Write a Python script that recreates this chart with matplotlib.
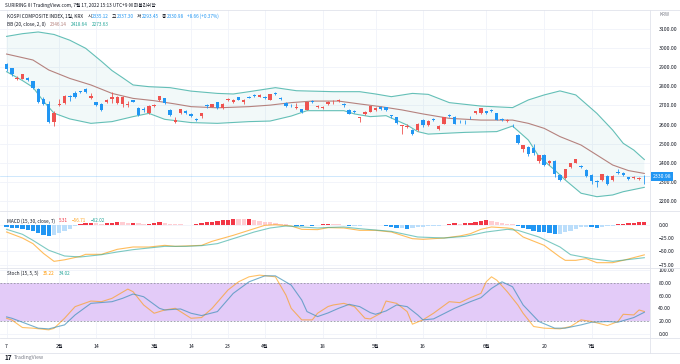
import numpy as np
import matplotlib.pyplot as plt
from matplotlib import transforms
from matplotlib.ticker import FuncFormatter

plt.rcParams['font.family'] = ['Noto Sans CJK KR', 'DejaVu Sans']

# KOSPI daily candles, 2022-01-17 .. 2022-07-15
opens = [2915, 2893, 2838, 2840, 2843, 2826, 2785, 2733, 2708, 2616,
         2702, 2712, 2752, 2765, 2773, 2786, 2741, 2716, 2709, 2717,
         2735, 2712, 2707, 2703, 2727, 2689, 2683, 2660, 2697, 2729,
         2737, 2678, 2616, 2659, 2671, 2656, 2631, 2646, 2700, 2694,
         2716, 2687, 2729, 2718, 2742, 2719, 2746, 2757, 2746, 2744,
         2729, 2767, 2740, 2713, 2703, 2688, 2681, 2676, 2722, 2693,
         2686, 2708, 2716, 2724, 2708, 2677, 2672, 2633, 2654, 2667,
         2674, 2692, 2690, 2648, 2638, 2592, 2590, 2574, 2570, 2625,
         2598, 2630, 2575, 2605, 2650, 2641, 2620, 2616, 2641, 2660,
         2661, 2670, 2677, 2660, 2632, 2620, 2600, 2548, 2472, 2486,
         2481, 2410, 2443, 2401, 2410, 2340, 2322, 2378, 2403, 2385,
         2365, 2338, 2308, 2310, 2332, 2310, 2355, 2350, 2325, 2320,
         2318, 2335.12]
highs = [2922, 2897, 2853, 2866, 2846, 2830, 2790, 2746, 2722, 2672,
         2735, 2754, 2757, 2777, 2777, 2791, 2763, 2719, 2713, 2733,
         2770, 2750, 2749, 2722, 2731, 2693, 2690, 2702, 2709, 2752,
         2741, 2681, 2642, 2683, 2675, 2661, 2637, 2661, 2706, 2709,
         2718, 2712, 2740, 2733, 2746, 2735, 2750, 2762, 2760, 2749,
         2760, 2770, 2745, 2716, 2708, 2711, 2684, 2719, 2728, 2702,
         2697, 2722, 2727, 2735, 2712, 2680, 2677, 2641, 2670, 2698,
         2694, 2697, 2694, 2652, 2641, 2600, 2603, 2578, 2607, 2628,
         2624, 2634, 2596, 2642, 2655, 2644, 2625, 2622, 2645, 2672,
         2686, 2673, 2680, 2662, 2635, 2631, 2604, 2551, 2495, 2490,
         2499, 2443, 2447, 2418, 2415, 2344, 2368, 2403, 2423, 2390,
         2368, 2341, 2312, 2345, 2336, 2337, 2368, 2355, 2330, 2333,
         2330, 2337.30]
lows = [2880, 2855, 2832, 2838, 2828, 2788, 2715, 2705, 2610, 2591,
        2699, 2706, 2722, 2740, 2764, 2766, 2734, 2698, 2670, 2714,
        2711, 2706, 2694, 2693, 2716, 2643, 2668, 2654, 2690, 2726,
        2707, 2645, 2607, 2655, 2654, 2640, 2617, 2633, 2689, 2690,
        2682, 2684, 2725, 2712, 2728, 2707, 2737, 2744, 2743, 2733,
        2727, 2756, 2728, 2693, 2690, 2684, 2660, 2674, 2712, 2688,
        2680, 2705, 2710, 2720, 2694, 2654, 2660, 2616, 2650, 2664,
        2670, 2677, 2673, 2636, 2606, 2550, 2585, 2546, 2566, 2590,
        2595, 2620, 2570, 2602, 2640, 2603, 2610, 2605, 2632, 2657,
        2658, 2655, 2665, 2622, 2618, 2615, 2590, 2501, 2460, 2436,
        2442, 2403, 2385, 2390, 2330, 2306, 2318, 2375, 2398, 2372,
        2328, 2290, 2276, 2306, 2288, 2305, 2345, 2335, 2312, 2315,
        2312, 2293.45]
closes = [2890, 2864, 2843, 2863, 2834, 2792, 2720, 2709, 2614, 2663,
          2708, 2750, 2745, 2746, 2769, 2772, 2748, 2704, 2677, 2730,
          2745, 2744, 2744, 2707, 2720, 2649, 2677, 2699, 2704, 2747,
          2713, 2651, 2622, 2680, 2661, 2646, 2622, 2659, 2695, 2707,
          2686, 2710, 2736, 2729, 2730, 2730, 2741, 2747, 2757, 2740,
          2758, 2759, 2735, 2696, 2700, 2693, 2667, 2716, 2717, 2696,
          2693, 2719, 2719, 2728, 2705, 2657, 2668, 2639, 2667, 2695,
          2687, 2680, 2678, 2644, 2611, 2597, 2592, 2550, 2604, 2597,
          2620, 2626, 2592, 2639, 2647, 2606, 2617, 2612, 2638, 2670,
          2686, 2659, 2671, 2626, 2626, 2625, 2596, 2505, 2493, 2447,
          2451, 2441, 2391, 2409, 2343, 2314, 2367, 2402, 2422, 2378,
          2333, 2305, 2300, 2342, 2292, 2334, 2351, 2340, 2318, 2329,
          2322.32, 2330.98]

# Bollinger bands (20, 2) read at sample bars
bb_up_idx = [0, 3, 6, 9, 12, 15, 18, 20, 22, 24, 27, 31, 35, 40, 43, 46, 51, 55,
             62, 67, 70, 73, 77, 80, 84, 90, 96, 99, 102, 105, 108, 112, 115,
             117, 119, 121]
bb_up = [3060, 3074, 3083, 3070, 3040, 2998, 2930, 2882, 2845, 2807, 2798,
         2793, 2775, 2763, 2760, 2772, 2793, 2777, 2772, 2772, 2760, 2746,
         2763, 2758, 2715, 2697, 2689, 2729, 2755, 2776, 2755, 2659, 2572,
         2503, 2468, 2418.64]
bb_mid_idx = [0, 5, 8, 12, 16, 20, 24, 28, 32, 35, 40, 46, 50, 54, 58, 63, 67,
              71, 75, 79, 84, 90, 96, 99, 102, 105, 109, 112, 115, 118, 121]
bb_mid = [2968, 2937, 2885, 2841, 2807, 2763, 2737, 2725, 2708, 2694, 2688,
          2694, 2702, 2715, 2723, 2723, 2708, 2694, 2677, 2656, 2633, 2624,
          2624, 2607, 2581, 2538, 2494, 2442, 2390, 2361, 2346.14]
bb_lo_idx = [0, 3, 5, 7, 9, 12, 16, 20, 24, 27, 30, 35, 40, 46, 50, 54, 57, 64,
             66, 69, 72, 76, 78, 80, 87, 93, 96, 99, 101, 104, 106, 109, 112,
             115, 117, 121]
bb_lo = [2876, 2830, 2795, 2722, 2660, 2630, 2607, 2616, 2642, 2659, 2628,
         2611, 2607, 2616, 2619, 2645, 2673, 2673, 2656, 2642, 2647, 2598,
         2564, 2551, 2560, 2564, 2593, 2520, 2434, 2364, 2312, 2243, 2225,
         2234, 2251, 2273.63]

# MACD (15, 30, 7)
macd_idx = [0, 3, 5, 7, 9, 11, 14, 15, 18, 21, 24, 27, 30, 32, 34, 37, 39, 43,
            47, 49, 51, 54, 56, 59, 61, 64, 67, 70, 73, 77, 79, 83, 86, 88, 90,
            92, 95, 96, 98, 102, 105, 106, 108, 110, 112, 115, 117, 121]
macd_line = [-13.7, -25, -35.6, -54, -68.9, -66, -59.5, -55.7, -55.7, -46.3,
             -41.9, -42, -38.8, -40.7, -40, -38.8, -31.2, -20, -7.4, -1.2, 0,
             -2.4, -8.7, -9.3, -5.5, -6.2, -10.6, -10.6, -13.7, -26.3, -27.5,
             -25, -21.2, -16.9, -8.7, -4.3, -6.2, -7.5, -23.1, -38.8, -60.8,
             -67, -67, -63.8, -71.4, -71.4, -67, -56.71]
sig_idx = [0, 3, 5, 8, 11, 14, 18, 21, 24, 27, 30, 34, 37, 40, 43, 47, 50, 53,
           56, 59, 61, 64, 67, 73, 78, 83, 87, 91, 95, 97, 101, 105, 107, 111,
           115, 121]
sig_line = [-8.7, -18, -29.4, -48, -58.8, -60.7, -56.4, -51.3, -46.9, -43.8,
            -40.7, -40.7, -39.4, -35.6, -26.2, -13.7, -6.2, -2.4, -4.3, -6.2,
            -5.2, -4.3, -7.5, -12.5, -23.1, -25, -21.9, -13.7, -8.7, -10.6,
            -23.1, -41.9, -56.3, -63.8, -68.9, -62.02]
macd_hist = [-5, -6, -7, -8, -10, -12, -15, -19, -21, -20,
             -16, -12, -8, -3, 1, 3, 4, 3, 1, 3,
             4, 5, 5, 3, 4, 3, 1, 2, 3, 5,
             4, 2, 1, 0.5, -0.5, -1, 0.5, 3, 5, 6,
             7, 8, 9, 10, 10, 10, 11, 9, 7, 6,
             5, 4, 2, 0.5, -1, -2, -2.5, -1.5, -2, -1.5,
             1, 2, 2, 1, -1.5, -3, -3, -2, -1, -0.5,
             -1, -1.5, -2, -5, -7, -7, -8, -7, -5, -4,
             -3, -2, -2, -1, 1, 3, 2, 3, 4, 5,
             7, 8, 7, 5, 3, 1.5, 0.5, -3, -7, -9,
             -11, -13, -14, -15, -17, -17, -13, -11, -8, -5,
             -4, -5, -6, -4, -3, -2, 1, 2, 3, 4,
             4.5, 5.31]

# Stochastic (15, 5, 5)
k_idx = [0, 1, 3, 5, 8, 9, 11, 13, 16, 18, 20, 23, 24, 26, 28, 30, 32, 35, 37,
         39, 42, 44, 46, 48, 51, 53, 54, 56, 58, 59, 61, 62, 64, 66, 68, 69,
         71, 72, 74, 76, 77, 79, 81, 84, 86, 88, 90, 91, 92, 93, 95, 97, 98,
         100, 102, 105, 107, 109, 111, 114, 116, 117, 119, 120, 121]
stoch_k = [24.7, 22, 10.3, 9.3, 6.7, 9, 24.7, 42.8, 51.5, 50.5, 55.7, 70.1,
           66, 45.4, 32.5, 37.6, 40.2, 24.7, 25.8, 40.2, 68.6, 81.4, 89.2,
           91.8, 89.2, 60.8, 40.2, 22.2, 22.2, 32.5, 43, 45.4, 47.9, 42.8,
           24.7, 23.7, 32.5, 51.5, 47.9, 35.1, 15.5, 22.2, 32.5, 50.5, 49,
           56.7, 63.4, 81.4, 89.2, 84, 66, 45.4, 32.5, 11.9, 9.3, 8.2, 11.9,
           22.2, 19.6, 13.4, 19.6, 30.9, 29.9, 37.6, 35.22]
d_idx = [0, 1, 4, 6, 8, 11, 13, 16, 20, 22, 24, 26, 29, 30, 33, 35, 37, 40, 43,
         46, 49, 51, 54, 56, 57, 59, 61, 63, 65, 67, 69, 70, 72, 74, 76, 78,
         79, 81, 85, 88, 90, 92, 94, 96, 98, 101, 104, 106, 109, 111, 114,
         116, 119, 121]
stoch_d = [26.8, 24.7, 15.5, 9.3, 8.2, 14.4, 29.9, 47.9, 50.5, 55.7, 62.4,
           58.2, 40.2, 37.6, 39.2, 32.5, 28.9, 35.1, 63.4, 81.4, 90.7, 90.7,
           76.3, 53.1, 35.1, 27.3, 33, 40.2, 46.4, 42.8, 33.5, 30.9, 36.1,
           45.4, 42.8, 29.9, 22.2, 23.7, 40.2, 50.5, 56.7, 71.1, 81.4, 73.7,
           45.4, 19.6, 9.3, 9.3, 14.4, 18.6, 19.6, 18.6, 25.8, 34.02]

tick_idx = [0, 10, 17, 28, 35, 42, 49, 60, 70, 79, 91, 102, 111]
tick_lbl = ['7', '2월', '14', '3월', '14', '23', '4월', '18', '5월', '16',
            '6월', '20', '7월']
price_ticks = [2200, 2300, 2400, 2500, 2600, 2700, 2800, 2900, 3000, 3100]
macd_ticks = [0, -25, -50, -75]
stoch_ticks = [0, 20, 40, 60, 80, 100]

RED = '#ef5350'
BLUE = '#2196f3'
TEAL = '#26a69a'
ORANGE = '#ffa726'
MIDC = '#b5827e'
GRID = '#f0f3fa'
SEP = '#e0e3eb'
TXT = '#131722'
GRAY = '#787b86'

W, H = 680, 364
fig = plt.figure(figsize=(W / 100, H / 100), dpi=100)


def pane(y0, y1):
    return fig.add_axes([0, 1 - y1 / H, 650 / W, (y1 - y0) / H])


ax_p = pane(10, 211)
ax_m = pane(211, 268)
ax_s = pane(268, 338)

fmt = FuncFormatter(lambda v, _: f'{v:.2f}'.replace('-', '\u2212'))
for ax, ticks in ((ax_p, price_ticks), (ax_m, macd_ticks), (ax_s, stoch_ticks)):
    ax.set_xlim(-1.25, 122.08)
    for s in ax.spines.values():
        s.set_visible(False)
    ax.yaxis.tick_right()
    ax.set_yticks(ticks)
    ax.yaxis.set_major_formatter(fmt)
    ax.tick_params(axis='y', length=0, labelsize=3.7, pad=6, labelcolor=TXT)
    ax.tick_params(axis='x', length=0)
    for t in ticks:
        ax.axhline(t, color=GRID, lw=0.6, zorder=0)
    for t in tick_idx:
        ax.axvline(t, color=GRID, lw=0.6, zorder=0)
    ax.set_xticks([])

ax_p.set_ylim(2150.5, 3197.4)
ax_m.set_ylim(-81.4, 25.75)
ax_s.set_ylim(-6.0, 102.9)

# --- price pane ---
x = np.arange(len(closes))
o, h, l, c = (np.array(v, dtype=float) for v in (opens, highs, lows, closes))
cols = np.where(c >= o, RED, BLUE)

ax_p.fill(np.r_[bb_up_idx, bb_lo_idx[::-1]], np.r_[bb_up, bb_lo[::-1]],
          color=TEAL, alpha=0.06, lw=0, zorder=1)
ax_p.plot(bb_up_idx, bb_up, color=TEAL, alpha=0.7, lw=0.8, zorder=2)
ax_p.plot(bb_lo_idx, bb_lo, color=TEAL, alpha=0.7, lw=0.8, zorder=2)
ax_p.plot(bb_mid_idx, bb_mid, color=MIDC, lw=0.8, zorder=2)

ax_p.axhline(c[-1], color=BLUE, alpha=0.3, lw=0.5, zorder=2)
ax_p.vlines(x, l, h, colors=cols, lw=0.6, zorder=3)
ax_p.bar(x, np.maximum(np.abs(c - o), 1.0), bottom=np.minimum(o, c),
         width=0.64, color=cols, lw=0, zorder=4)

tr = transforms.blended_transform_factory(ax_p.transAxes, ax_p.transData)
ax_p.text(1.004, c[-1], f'{c[-1]:.2f}', transform=tr, fontsize=3.7,
          color='white', va='center', ha='left', clip_on=False, zorder=6,
          bbox=dict(boxstyle='square,pad=0.35', fc=BLUE, ec='none'))

# --- MACD pane ---
hist = np.array(macd_hist, dtype=float)
prev = np.r_[0.0, hist[:-1]]
hcol = np.where(hist >= 0,
                np.where(hist > prev, '#f23645', '#ffcdd2'),
                np.where(hist < prev, BLUE, '#bbdefb'))
ax_m.bar(x, hist, width=0.82, color=hcol, lw=0, zorder=2)
ax_m.plot(macd_idx, macd_line, color=ORANGE, alpha=0.75, lw=0.8, zorder=3)
ax_m.plot(sig_idx, sig_line, color=TEAL, alpha=0.6, lw=0.8, zorder=3)

# --- Stochastic pane ---
ax_s.axhspan(20, 80, color='#e3cbf8', lw=0, zorder=1)
for lvl in (20, 80):
    ax_s.axhline(lvl, color='#9598a1', lw=0.6, ls=(0, (2, 2)), zorder=2)
ax_s.plot(k_idx, stoch_k, color='#ff9800', alpha=0.6, lw=0.8, zorder=3)
ax_s.plot(d_idx, stoch_d, color='#3d8fb8', alpha=0.7, lw=0.8, zorder=3)
ax_s.set_xticks(tick_idx)
ax_s.set_xticklabels(tick_lbl)
ax_s.tick_params(axis='x', labelsize=3.7, pad=4, labelcolor=TXT)

# --- overlay: separators, legends, header ---
ov = fig.add_axes([0, 0, 1, 1])
ov.set_xlim(0, W)
ov.set_ylim(H, 0)
ov.axis('off')
ov.patch.set_alpha(0)
for yy in (10, 211, 268, 338, 353):
    ov.plot([0, W], [yy, yy], color=SEP, lw=0.6)
ov.plot([650, 650], [10, 353], color=SEP, lw=0.6)

renderer = fig.canvas.get_renderer()


def row(x0, y, parts, size=3.4):
    # lay text pieces left to right, each followed by its own gap (px)
    xx = x0
    for txt, col, gap in parts:
        t = ov.text(xx, y, txt, color=col, fontsize=size, va='center', ha='left')
        xx += t.get_window_extent(renderer).width + gap


def minus(v):
    return f'{v:.2f}'.replace('-', '\u2212')


row(5, 5.3, [('SURIRING 이 TradingView.com, 7월 17, 2022 15:13 UTC+9 에 퍼블리쉬함', TXT, 0)])
chg = c[-1] - c[-2]
row(7.3, 16.7, [('KOSPI COMPOSITE INDEX, 1일, KRX', TXT, 4),
                ('시', TXT, 0.5), (f'{o[-1]:.2f}', BLUE, 3),
                ('고', TXT, 0.5), (f'{h[-1]:.2f}', BLUE, 3),
                ('저', TXT, 0.5), (f'{l[-1]:.2f}', BLUE, 3),
                ('종', TXT, 0.5), (f'{c[-1]:.2f}', BLUE, 3),
                (f'+{chg:.2f} (+{chg / c[-2] * 100:.2f}%)', BLUE, 0)])
row(7.3, 24.2, [('BB (20, close, 2, 0)', TXT, 4),
                (f'{bb_mid[-1]:.2f}', MIDC, 4),
                (f'{bb_up[-1]:.2f}', TEAL, 4),
                (f'{bb_lo[-1]:.2f}', TEAL, 0)])
row(7.3, 221, [('MACD (15, 30, close, 7)', TXT, 4),
               (f'{macd_hist[-1]:.2f}', '#f23645', 4),
               (minus(macd_line[-1]), ORANGE, 4),
               (minus(sig_line[-1]), TEAL, 0)])
row(7.3, 273.7, [('Stoch (15, 5, 5)', TXT, 4),
                 (f'{stoch_k[-1]:.2f}', '#ff9800', 4),
                 (f'{stoch_d[-1]:.2f}', TEAL, 0)])
ov.text(659, 15, 'KRW', fontsize=3.3, color=GRAY, va='center')
ov.text(5, 358, '17', fontsize=4.6, fontweight='bold', color=TXT, va='center')
ov.text(14, 358, 'TradingView', fontsize=3.7, color=GRAY, va='center')

fig.savefig('out.png', dpi=100)
